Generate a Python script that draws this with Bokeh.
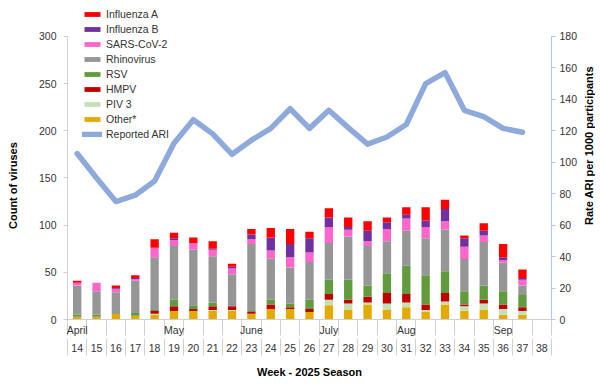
from bokeh.plotting import figure
from bokeh.layouts import row
from bokeh.models import Range1d, LinearAxis, FixedTicker, Legend, LegendItem, ColumnDataSource, Div
from bokeh.embed import file_html
from bokeh.resources import INLINE

# ---------------- data ----------------
weeks = list(range(14, 39))
other = [3, 3, 6, 4, 5, 9, 9, 9, 9, 6, 11, 11, 8, 15, 10, 16, 10, 13, 8, 16, 9, 10, 5, 5, 0]
piv3 = [0, 0, 0, 0, 1, 0, 0, 1, 1, 0, 0, 0, 0, 6, 7, 2, 7, 5, 2, 3, 5, 7, 6, 4, 0]
hmpv = [0, 0, 0, 0, 3, 5, 2, 4, 4, 2, 5, 2, 3, 6, 4, 6, 11, 9, 6, 9, 2, 4, 5, 4, 0]
rsv = [2, 2, 1, 3, 1, 7, 4, 4, 0, 1, 5, 4, 10, 15, 21, 12, 21, 30, 31, 23, 14, 15, 14, 13, 0]
rhino = [31, 25, 22, 34, 56, 57, 59, 49, 34, 71, 44, 38, 40, 39, 46, 42, 34, 37, 39, 44, 34, 46, 30, 10, 0]
sars = [3, 9, 3, 2, 10, 6, 7, 7, 6, 5, 8, 11, 10, 17, 7, 5, 13, 13, 12, 9, 13, 7, 3, 6, 0]
flu_b = [0, 0, 1, 1, 0, 2, 0, 1, 2, 5, 14, 14, 15, 10, 3, 11, 7, 4, 7, 13, 9, 5, 3, 2, 0]
flu_a = [2, 0, 3, 3, 9, 6, 6, 8, 3, 6, 10, 16, 7, 10, 10, 10, 5, 8, 14, 10, 3, 8, 14, 9, 0]

ari_weeks = list(range(14, 38))
ari = [105.5, 90, 75, 79, 88, 112, 127, 118, 105, 114, 121.5, 134, 121.5, 133,
       122, 111.5, 116, 124, 150, 157, 133, 129, 121.5, 119]

month_weeks = [14, 19, 23, 27, 31, 36]
month_names = ["April", "May", "June", "July", "Aug", "Sep"]

left_ticks = [0, 50, 100, 150, 200, 250, 300]
right_ticks = [0, 20, 40, 60, 80, 100, 120, 140, 160, 180]

series = ["other", "piv3", "hmpv", "rsv", "rhino", "sars", "flu_b", "flu_a"]
names = ["Other*", "PIV 3", "HMPV", "RSV", "Rhinovirus", "SARS-CoV-2", "Influenza B", "Influenza A"]
colors = ["#E3AA00", "#C5E0B4", "#C00000", "#629A3E", "#969696", "#FF66CC", "#7030A0", "#FF0000"]
ari_color = "#8EA9DB"

FONT = "Liberation Sans"
TXT = "#333333"

# frame spans a little above the 300 / 180 tops so the legend fits inside it
LEFT_TOP = 338.0
RIGHT_TOP = LEFT_TOP * 180 / 300

src = ColumnDataSource(dict(week=weeks, other=other, piv3=piv3, hmpv=hmpv, rsv=rsv,
                            rhino=rhino, sars=sars, flu_b=flu_b, flu_a=flu_a))

p = figure(width=558, height=380, x_range=Range1d(13.5, 38.5), y_range=Range1d(0, LEFT_TOP),
           output_backend="svg", toolbar_location=None, x_axis_location=None,
           min_border_left=45, min_border_right=26, min_border_top=0, min_border_bottom=0)
p.extra_y_ranges = {"ari": Range1d(0, RIGHT_TOP)}
p.xgrid.visible = False
p.ygrid.visible = False
p.outline_line_color = None
p.background_fill_color = "white"

bars = p.vbar_stack(series, x="week", width=0.43, color=colors, source=src, line_color=None)
ari_r = p.line(ari_weeks, ari, y_range_name="ari", line_color=ari_color, line_width=5.5,
               line_join="round", line_cap="round")

# left axis (its title is drawn beside the figure)
ya = p.yaxis[0]
ya.ticker = FixedTicker(ticks=left_ticks)
ya.bounds = (0, 300)
ya.axis_line_color = "#D0D0D0"
ya.major_tick_line_color = "#D0D0D0"
ya.major_tick_out = 4
ya.major_tick_in = 0
ya.minor_tick_line_color = None
ya.major_label_standoff = 7
ya.major_label_text_font = FONT
ya.major_label_text_font_size = "10.5px"
ya.major_label_text_color = TXT

# right axis (its title is drawn beside the figure so it reads bottom-to-top)
ra = LinearAxis(y_range_name="ari", ticker=FixedTicker(ticks=right_ticks))
ra.bounds = (0, 180)
ra.axis_line_color = "#B4C7E7"
ra.major_tick_line_color = "#B4C7E7"
ra.major_tick_out = 4
ra.major_tick_in = 0
ra.minor_tick_line_color = None
ra.major_label_standoff = 4
ra.major_label_text_font = FONT
ra.major_label_text_font_size = "10.5px"
ra.major_label_text_color = TXT
p.add_layout(ra, "right")

# bottom category axes (month row + week row), separators as minor ticks
halves = [w - 0.5 for w in weeks] + [weeks[-1] + 0.5]
ax1 = LinearAxis(ticker=FixedTicker(ticks=month_weeks, minor_ticks=halves),
                 major_label_overrides=dict(zip(month_weeks, month_names)))
ax1.axis_line_color = "#D0D0D0"
ax1.major_tick_line_color = None
ax1.major_tick_out = 0
ax1.major_tick_in = 0
ax1.minor_tick_line_color = "#D0D0D0"
ax1.minor_tick_out = 16
ax1.minor_tick_in = 0
ax1.major_label_standoff = -12
ax1.major_label_text_font = FONT
ax1.major_label_text_font_size = "10.5px"
ax1.major_label_text_color = TXT
p.add_layout(ax1, "below")

ax2 = LinearAxis(ticker=FixedTicker(ticks=weeks, minor_ticks=halves),
                 axis_label="Week - 2025 Season")
ax2.axis_line_color = None
ax2.major_tick_line_color = None
ax2.major_tick_out = 0
ax2.major_tick_in = 0
ax2.minor_tick_line_color = "#D0D0D0"
ax2.minor_tick_out = 17
ax2.minor_tick_in = 0
ax2.major_label_standoff = -12
ax2.major_label_text_font = FONT
ax2.major_label_text_font_size = "10.5px"
ax2.major_label_text_color = TXT
ax2.axis_label_standoff = 11
ax2.axis_label_text_font = FONT
ax2.axis_label_text_font_size = "11px"
ax2.axis_label_text_font_style = "bold"
ax2.axis_label_text_color = "black"
p.add_layout(ax2, "below")

# legend
items = [LegendItem(label=n, renderers=[r]) for n, r in zip(names[::-1], bars[::-1])]
items.append(LegendItem(label="Reported ARI", renderers=[ari_r]))
legend = Legend(items=items, location=(15, 178), orientation="vertical",
                glyph_width=20, glyph_height=6, label_height=15, spacing=0,
                padding=0, margin=0, label_standoff=4,
                label_text_font=FONT, label_text_font_size="10.5px", label_text_color=TXT,
                border_line_color=None, background_fill_alpha=0)
p.add_layout(legend)

title_style = {"writing-mode": "vertical-rl", "transform": "rotate(180deg)",
               "font-family": FONT, "font-size": "11px", "font-weight": "bold",
               "color": "black", "line-height": "13px", "white-space": "nowrap",
               "box-sizing": "border-box", "margin": "0"}

left_title = Div(text="Count of viruses", width=22, height=380,
                 styles=dict(title_style, **{"padding-top": "151px", "padding-right": "7px"}))
right_title = Div(text="Rate ARI  per 1000 participants", width=20, height=380,
                  styles=dict(title_style, **{"padding-top": "155px", "padding-right": "3px"}))

layout = row(left_title, p, right_title, spacing=0)

open("out.html", "w").write(file_html(layout, INLINE))
